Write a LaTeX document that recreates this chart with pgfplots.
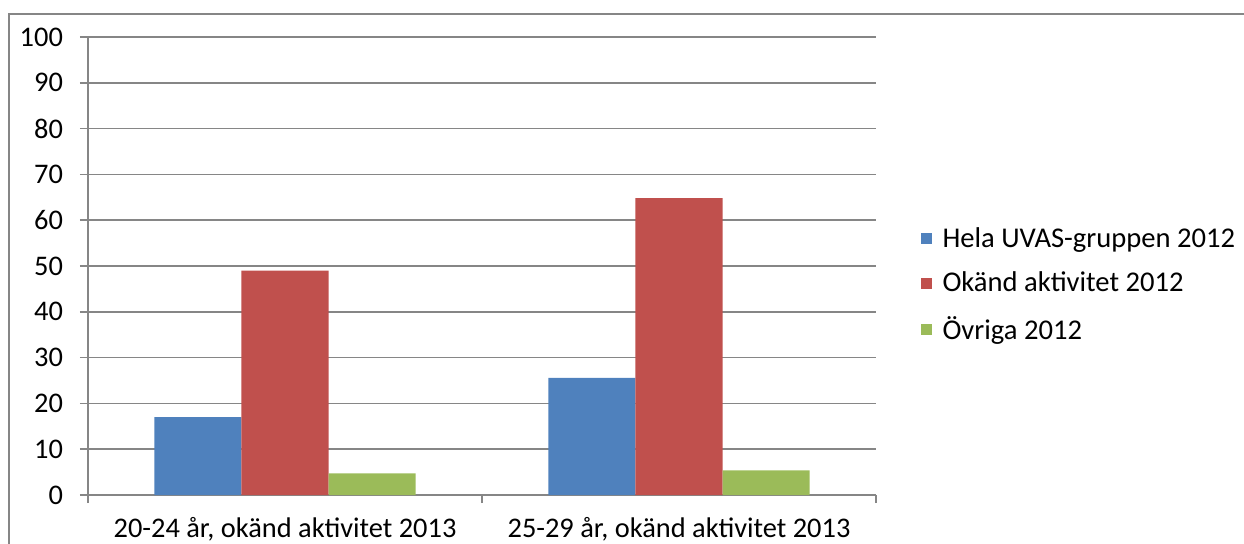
\documentclass[border=0pt]{standalone}
\usepackage{fontspec}
\setmainfont{Carlito}
\usepackage{pgfplots}
\pgfplotsset{compat=1.18}
\definecolor{barblue}{HTML}{4F81BD}
\definecolor{barred}{HTML}{C0504D}
\definecolor{bargreen}{HTML}{9BBB59}
\definecolor{gridgray}{HTML}{868686}

\begin{document}
\begin{tikzpicture}
% page = 1244 x 543 px, 1 px = 0.5pt
\path[use as bounding box] (0,0) rectangle (622pt,271.5pt);
\draw[gridgray, line width=0.8pt] (4.5pt,-2pt) -- (4.5pt,264.5pt) -- (625pt,264.5pt);
\begin{axis}[
  at={(44pt,24pt)}, anchor=south west,
  scale only axis, width=394pt, height=229pt,
  ybar=0pt, bar width=43.5pt,
  xmin=-0.5, xmax=1.5, ymin=0, ymax=100,
  xtick={-0.5,0.5,1.5},
  x tick label as interval,
  xticklabels={{20-24 år, okänd aktivitet 2013},{25-29 år, okänd aktivitet 2013}},
  xticklabel style={yshift=-3.5pt},
  ytick={0,10,...,100},
  yticklabel style={xshift=-5pt},
  axis x line*=bottom, axis y line*=left,
  ymajorgrids,
  grid style={gridgray, line width=0.8pt},
  axis line style={gridgray, line width=0.8pt},
  tick style={gridgray, line width=0.8pt},
  tick align=outside, major tick length=4pt,
  font=\fontsize{14.2}{17}\selectfont,
  /pgf/number format/assume math mode=true,
  legend style={draw=none, fill=none, at={(1.056,0.459)}, anchor=west,
    inner sep=0pt, row sep=6.8pt, font=\fontsize{14.3}{17}\selectfont,
    nodes={inner xsep=5.5pt}},
  legend cell align=left,
  legend image code/.code={\fill[#1,draw=none] (0pt,-2.75pt) rectangle (5.5pt,2.75pt);},
]
\addplot[fill=barblue, draw=none] coordinates {(0,17.0) (1,25.6)};
\addplot[fill=barred, draw=none] coordinates {(0,49.0) (1,64.8)};
\addplot[fill=bargreen, draw=none] coordinates {(0,4.7) (1,5.4)};
\legend{Hela UVAS-gruppen 2012, Okänd aktivitet 2012, Övriga 2012}
\end{axis}
\end{tikzpicture}
\end{document}
